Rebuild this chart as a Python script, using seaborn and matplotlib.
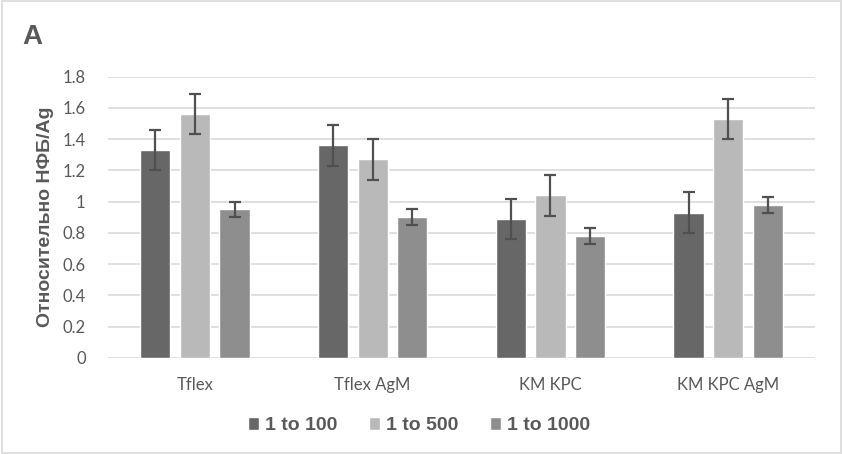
import numpy as np
import pandas as pd
import matplotlib
matplotlib.use("Agg")
import matplotlib.pyplot as plt
import seaborn as sns

groups = ["Tflex", "Tflex AgM", "KM KPC", "KM KPC AgM"]
dilutions = ["1 to 100", "1 to 500", "1 to 1000"]
vals_100 = [1.33, 1.36, 0.89, 0.93]
vals_500 = [1.56, 1.27, 1.04, 1.53]
vals_1000 = [0.95, 0.90, 0.78, 0.98]
err_100 = [0.13, 0.13, 0.13, 0.13]
err_500 = [0.13, 0.13, 0.13, 0.13]
err_1000 = [0.05, 0.05, 0.05, 0.05]
colors = ["#676767", "#b9b9b9", "#8e8e8e"]

df = pd.DataFrame({
    "group": groups * 3,
    "dil": [d for d in dilutions for _ in groups],
    "val": vals_100 + vals_500 + vals_1000,
})
errs = err_100 + err_500 + err_1000

sns.set_style("white")
plt.rcParams['font.family'] = ['Liberation Sans', 'DejaVu Sans']
fig = plt.figure(figsize=(8.43, 4.54), dpi=100)
ax = fig.add_axes([0.128, 0.212, 0.839, 0.619])

sns.barplot(data=df, x="group", y="val", hue="dil", palette=colors,
            width=0.67, gap=0.24, errorbar=None, saturation=1, ax=ax)

# error bars at bar centres
bars = [p for p in ax.patches if p.get_height() > 0][:len(errs)]
for p, e in zip(bars, errs):
    ax.errorbar(p.get_x() + p.get_width() / 2, p.get_height(), yerr=e,
                fmt="none", ecolor="#505050", elinewidth=1.6, capsize=4, capthick=1.6)

ax.set_ylim(0, 1.8)
ax.set_yticks(np.arange(0, 1.81, 0.2))
ax.set_yticklabels(["0", "0.2", "0.4", "0.6", "0.8", "1", "1.2", "1.4", "1.6", "1.8"])
ax.yaxis.grid(True, color="#d9d9d9", linewidth=1.2)
ax.set_axisbelow(True)
for s in ax.spines.values():
    s.set_visible(False)
ax.tick_params(axis="both", length=0, colors="#595959", labelsize=12)
ax.tick_params(axis="x", pad=14)
ax.tick_params(axis="y", pad=16)
for lbl in ax.get_xticklabels() + ax.get_yticklabels():
    lbl.set_family(["Lato", "DejaVu Sans"])
ax.set_xlabel("")
ax.set_ylabel("Относительно НФБ/Ag", fontsize=14, fontweight="bold", color="#595959", labelpad=6)

ax.legend(loc="upper center", bbox_to_anchor=(0.44, -0.15), ncol=3, frameon=False,
          handlelength=0.6, handleheight=0.6, handletextpad=0.3, columnspacing=1.6,
          prop={"size": 14, "weight": "bold"}, labelcolor="#595959")

fig.text(0.026, 0.903, "A", fontsize=20, fontweight="bold", color="#595959")
fig.add_artist(plt.Rectangle((0.002, 0.003), 0.996, 0.994, transform=fig.transFigure,
                             fill=False, edgecolor="#d9d9d9", linewidth=1.2))

fig.savefig("out.png", dpi=100)
